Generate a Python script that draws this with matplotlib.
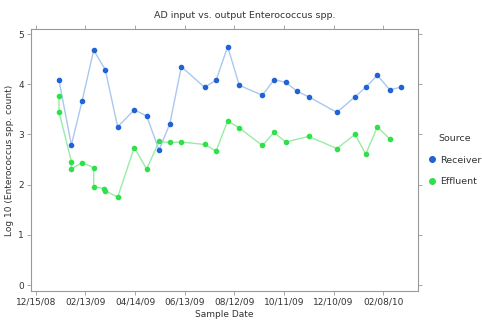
import pandas as pd
import matplotlib
matplotlib.use('Agg')
import matplotlib.pyplot as plt
import matplotlib.dates as mdates

# Receiver samples
recv_dates = ['2009-01-12', '2009-01-27', '2009-02-09', '2009-02-23', '2009-03-09',
              '2009-03-24', '2009-04-13', '2009-04-28', '2009-05-13', '2009-05-26',
              '2009-06-09', '2009-07-07', '2009-07-21', '2009-08-04', '2009-08-18',
              '2009-09-15', '2009-09-29', '2009-10-13', '2009-10-27', '2009-11-10',
              '2009-12-14', '2010-01-05', '2010-01-18', '2010-02-01', '2010-02-16',
              '2010-03-01']
recv_vals = [4.08, 2.79, 3.67, 4.68, 4.29, 3.15, 3.49, 3.37, 2.69, 3.21,
             4.35, 3.94, 4.08, 4.75, 3.98, 3.78, 4.09, 4.04, 3.86, 3.75,
             3.44, 3.75, 3.94, 4.18, 3.89, 3.94]

# Effluent samples (some dates sampled twice)
eff_dates = ['2009-01-12', '2009-01-12', '2009-01-27', '2009-01-27', '2009-02-09',
             '2009-02-23', '2009-02-23', '2009-03-08', '2009-03-09', '2009-03-24',
             '2009-04-13', '2009-04-28', '2009-05-13', '2009-05-26', '2009-06-09',
             '2009-07-07', '2009-07-21', '2009-08-04', '2009-08-18', '2009-09-15',
             '2009-09-29', '2009-10-13', '2009-11-10', '2009-12-14', '2010-01-05',
             '2010-01-18', '2010-02-01', '2010-02-16']
eff_vals = [3.76, 3.45, 2.46, 2.31, 2.44, 2.34, 1.96, 1.92, 1.88, 1.75,
            2.74, 2.31, 2.86, 2.84, 2.85, 2.80, 2.67, 3.27, 3.13, 2.78,
            3.04, 2.85, 2.96, 2.72, 3.00, 2.61, 3.15, 2.91]

tick_dates = pd.date_range('2008-12-15', periods=8, freq='60D')

fig = plt.figure(figsize=(4.82, 3.23), dpi=100)
ax = fig.add_axes([0.064, 0.099, 0.803, 0.811])

ax.plot(pd.to_datetime(recv_dates), recv_vals, color='#a9c8ef', lw=1,
        marker='o', ms=3, mfc='#1f63d6', mec='#1f63d6', label='Receiver')
ax.plot(pd.to_datetime(eff_dates), eff_vals, color='#98eca4', lw=1,
        marker='o', ms=3, mfc='#2fe04a', mec='#2fe04a', label='Effluent')

ax.set_xlim(pd.Timestamp('2008-12-09'), pd.Timestamp('2010-03-22'))
ax.set_ylim(-0.12, 5.1)
ax.set_xticks(tick_dates)
ax.xaxis.set_major_formatter(mdates.DateFormatter('%m/%d/%y'))
ax.set_yticks([0, 1, 2, 3, 4, 5])

for s in ax.spines.values():
    s.set_color('#999999')
    s.set_linewidth(0.8)
ax.tick_params(colors='#999999', labelcolor='#333333', labelsize=6.5,
               length=3, width=0.6, top=True, right=True, pad=2)

ax.set_xlabel('Sample Date', fontsize=6.5, color='#333333', labelpad=2)
ax.set_ylabel('Log 10 (Enterococcus spp. count)', fontsize=6.5, color='#333333', labelpad=3)
fig.text(0.508, 0.953, 'AD input vs. output Enterococcus spp.', ha='center', va='center',
         fontsize=6.8, color='#333333')

leg = ax.legend(title='Source', loc='center left', bbox_to_anchor=(1.005, 0.50),
                frameon=False, fontsize=6.8, title_fontsize=6.8, handlelength=0.8,
                labelspacing=1.3, handletextpad=0.5)
for h in leg.legend_handles:
    h.set_linestyle('')
    h.set_markersize(4)
for t in leg.get_texts():
    t.set_color('#333333')
leg.get_title().set_color('#333333')

fig.savefig('out.png', dpi=100)
plt.close()
